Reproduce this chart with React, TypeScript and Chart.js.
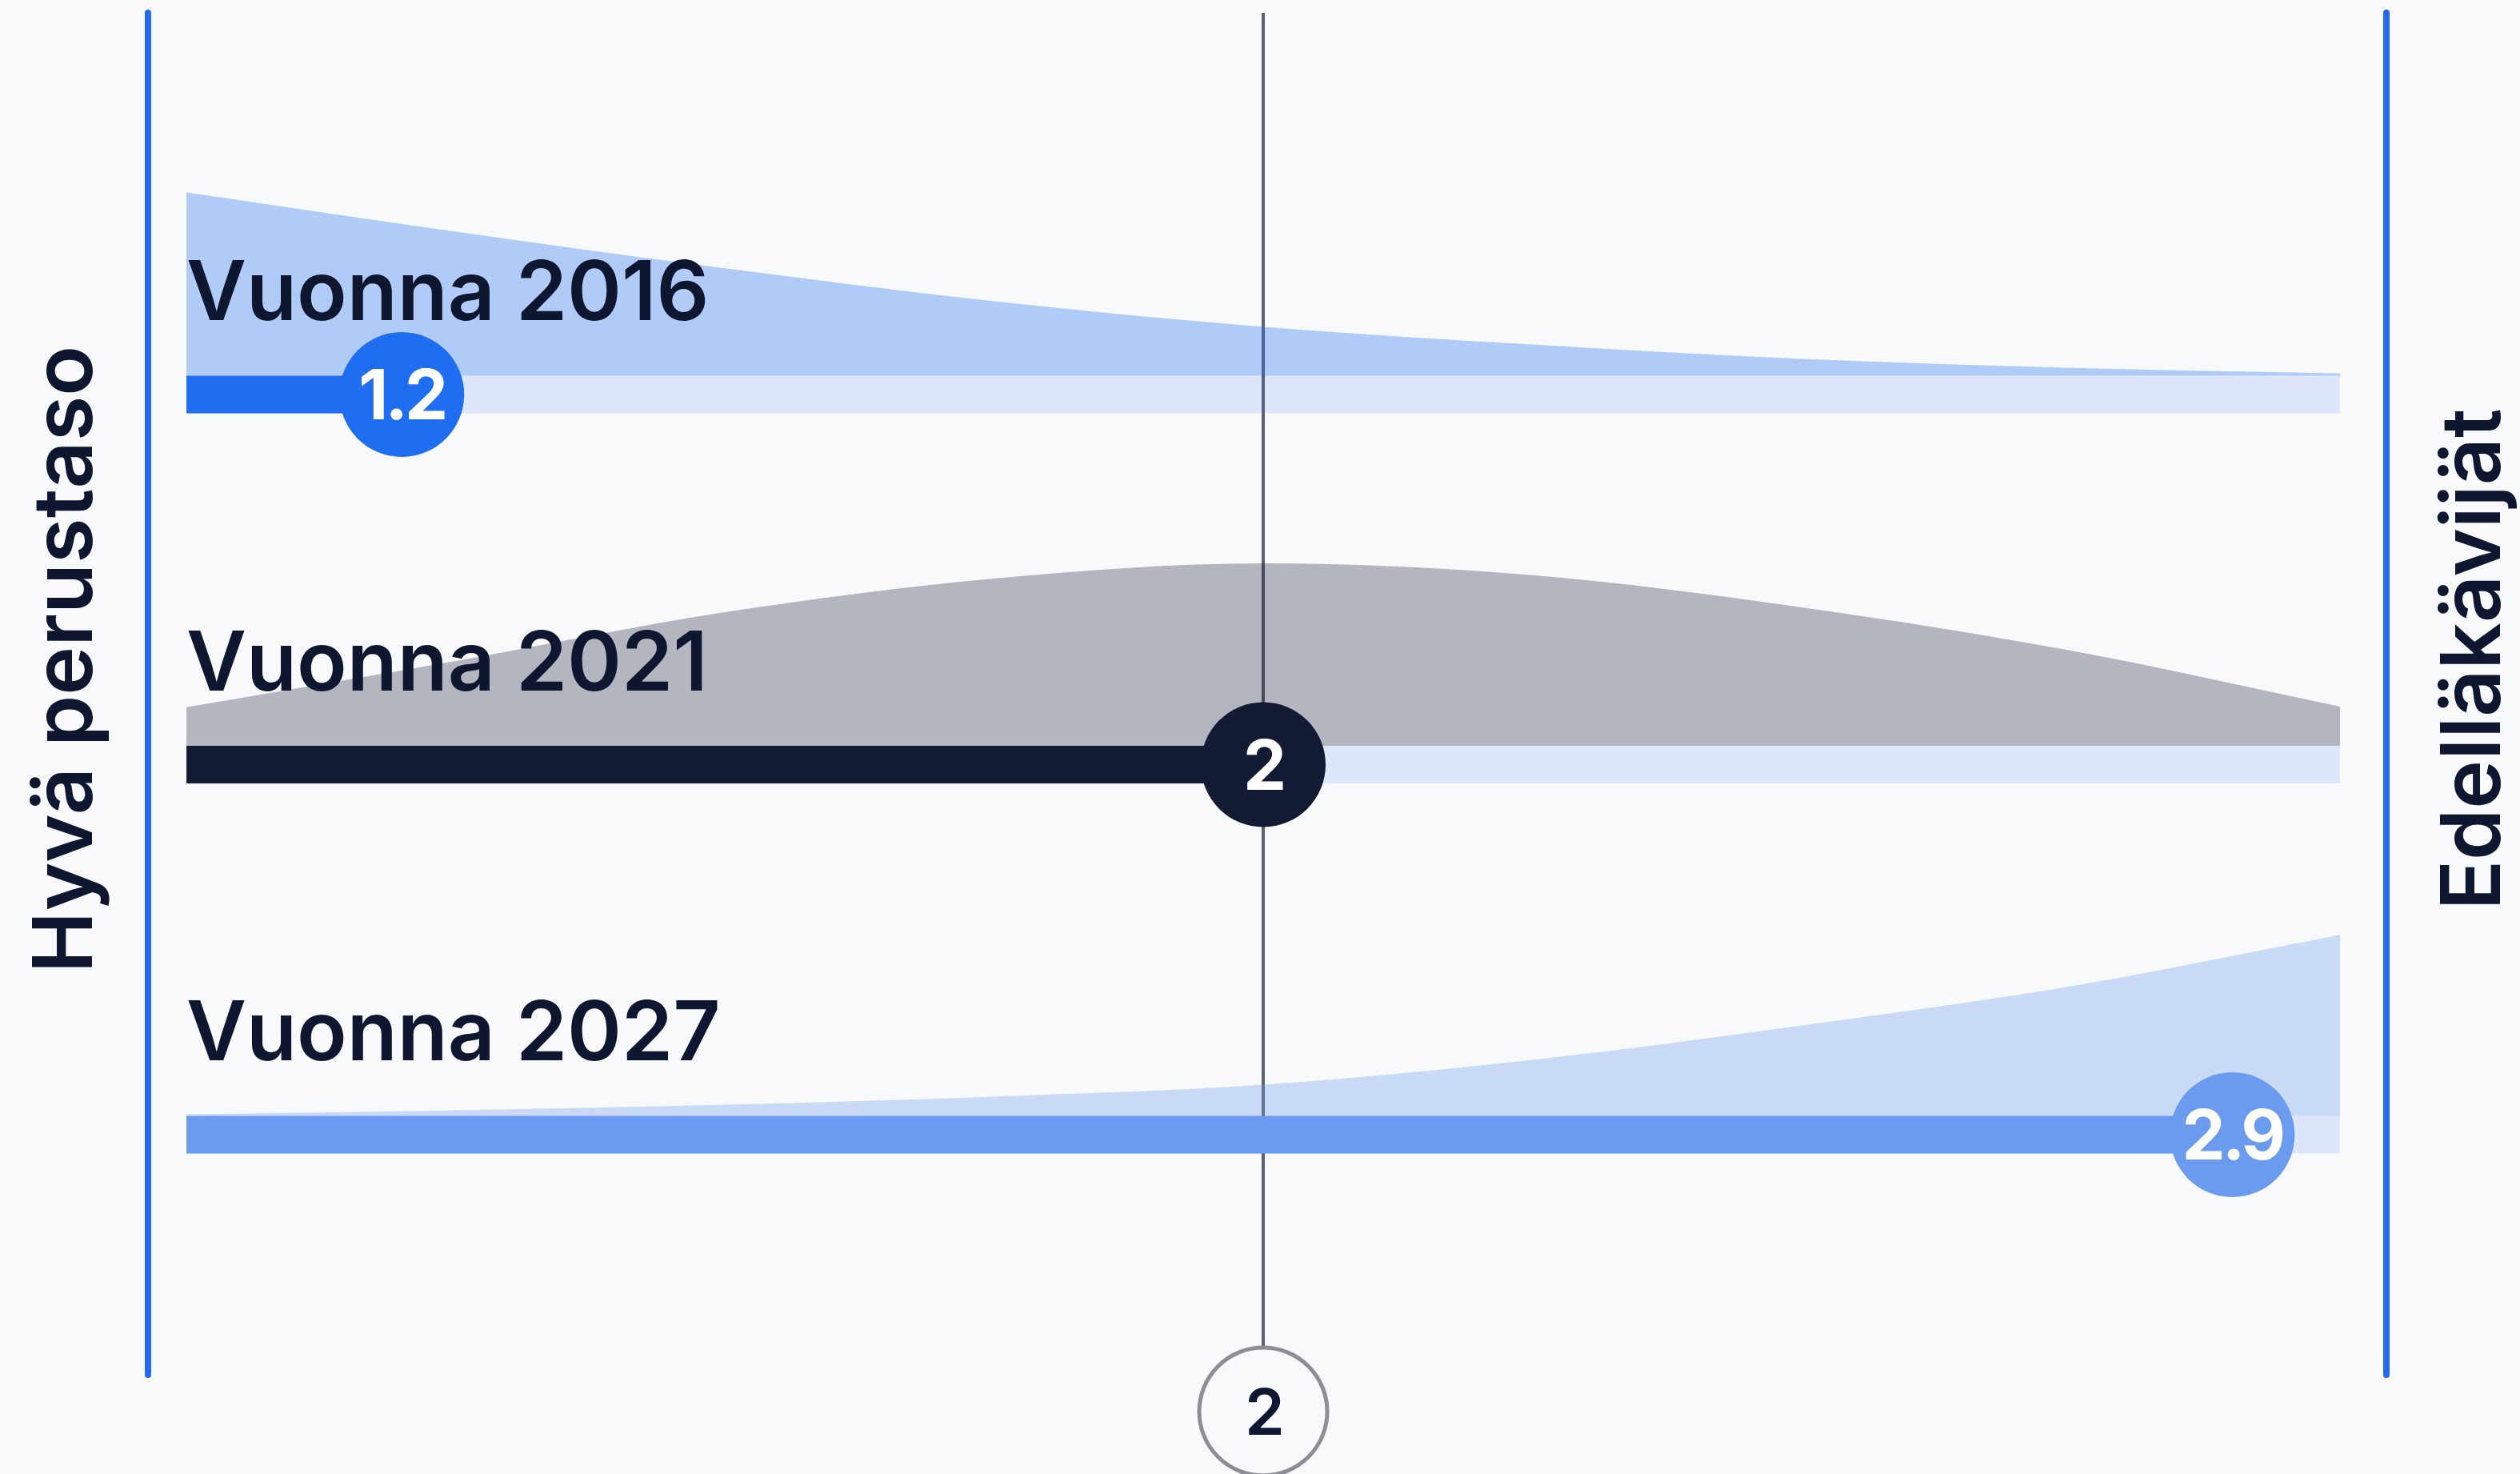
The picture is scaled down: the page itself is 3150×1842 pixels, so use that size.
import React, { useEffect, useRef } from 'react';
import { Chart, registerables } from 'chart.js';

Chart.register(...registerables);

// ---------- data ----------
const CATEGORIES = ['Vuonna 2016', 'Vuonna 2021', 'Vuonna 2027'];
const SCORES = [1.2, 2, 2.9];
const BENCHMARK = 2;
const SCALE_MIN = 1;
const SCALE_MAX = 3;
const AXIS_LABELS = ['Hyvä perustaso', 'Edelläkävijät'];
const DIST_X = [1, 1.25, 1.5, 1.75, 2, 2.25, 2.5, 2.75, 3];
const DIST_2016 = [0.495, 0.389, 0.29, 0.201, 0.132, 0.084, 0.045, 0.021, 0.006];
const DIST_2021 = [0.104, 0.229, 0.361, 0.452, 0.493, 0.461, 0.374, 0.257, 0.106];
const DIST_2027 = [0.004, 0.015, 0.03, 0.052, 0.084, 0.151, 0.244, 0.35, 0.489];
const DISTS = [DIST_2016, DIST_2021, DIST_2027];

// ---------- layout / style ----------
const W = 3150;
const H = 1842;
const ROW_POS = [3, 2, 1];
const X_MIN = 0.9643;
const X_MAX = 3.0431;
const Y_MIN = 0.3514;
const Y_MAX = 4.0314;
const HALF_BAR = 0.051; // half bar thickness in row units
const BENCH_Y = 0.252;
const BAR_PX = 47;
const DOT_R = 78;

const BG = '#f8f9fb';
const EDGE = '#2368ef';
const TEXT = '#0e1630';
const LINE = '#5b616f';
const RING = '#8b8e95';
const TRACK = 'rgba(37,110,240,0.12)';
const BAR_COLORS = ['#1f6ef2', '#131a33', '#6a9bee'];
const AREA_COLORS = ['rgba(31,110,242,0.33)', 'rgba(19,26,51,0.30)', 'rgba(106,155,238,0.33)'];
const FONT = 'Inter, "Noto Sans", Lato, sans-serif';

const fmt = (v: number) => (Number.isInteger(v) ? String(v) : v.toFixed(1));

export default function App() {
  const ref = useRef<HTMLCanvasElement>(null);

  useEffect(() => {
    document.body.style.margin = '0';
    document.body.style.background = BG;
    const canvas = ref.current!;

    const datasets: any[] = [];

    // benchmark vertical line
    datasets.push({
      data: [{ x: BENCHMARK, y: Y_MAX }, { x: BENCHMARK, y: BENCH_Y }],
      borderColor: LINE,
      borderWidth: 4,
      pointRadius: 0,
      clip: false,
      order: 30,
    });

    // tracks
    ROW_POS.forEach((r) => {
      datasets.push({
        data: [{ x: SCALE_MIN, y: r }, { x: SCALE_MAX, y: r }],
        borderColor: TRACK,
        borderWidth: BAR_PX,
        borderCapStyle: 'butt',
        pointRadius: 0,
        order: 25,
      });
    });

    // distribution areas
    ROW_POS.forEach((r, i) => {
      const base = r + HALF_BAR;
      datasets.push({
        data: DIST_X.map((x, k) => ({ x, y: base + DISTS[i][k] })),
        borderColor: 'rgba(0,0,0,0)',
        borderWidth: 0,
        backgroundColor: AREA_COLORS[i],
        fill: { value: base },
        cubicInterpolationMode: 'monotone',
        pointRadius: 0,
        order: 24,
      });
    });

    // edges
    [X_MIN, X_MAX].forEach((x) => {
      datasets.push({
        data: [{ x, y: Y_MAX }, { x, y: Y_MIN }],
        borderColor: EDGE,
        borderWidth: 8,
        borderCapStyle: 'round',
        pointRadius: 0,
        clip: false,
        order: 20,
      });
    });

    // value bars
    ROW_POS.forEach((r, i) => {
      datasets.push({
        data: [{ x: SCALE_MIN, y: r }, { x: SCORES[i], y: r }],
        borderColor: BAR_COLORS[i],
        borderWidth: BAR_PX,
        borderCapStyle: 'butt',
        pointRadius: 0,
        order: 15,
      });
    });

    // value dots
    const dotIdx: number[] = [];
    ROW_POS.forEach((r, i) => {
      dotIdx.push(datasets.length);
      datasets.push({
        data: [{ x: SCORES[i], y: r }],
        showLine: false,
        pointRadius: DOT_R,
        pointHoverRadius: DOT_R,
        pointBackgroundColor: BAR_COLORS[i],
        pointBorderWidth: 0,
        borderColor: BAR_COLORS[i],
        clip: false,
        order: 10,
      });
    });

    // benchmark ring
    const benchIdx = datasets.length;
    datasets.push({
      data: [{ x: BENCHMARK, y: BENCH_Y }],
      showLine: false,
      pointRadius: 80,
      pointHoverRadius: 80,
      pointBackgroundColor: BG,
      pointBorderColor: RING,
      pointBorderWidth: 5,
      borderColor: RING,
      clip: false,
      order: 5,
    });

    const bgPlugin = {
      id: 'bg',
      beforeDraw(chart: any) {
        const c = chart.ctx;
        c.save();
        c.fillStyle = BG;
        c.fillRect(0, 0, chart.width, chart.height);
        c.restore();
      },
    };

    const textPlugin = {
      id: 'texts',
      afterDatasetsDraw(chart: any) {
        const c = chart.ctx;
        const xs = chart.scales.x;
        const ys = chart.scales.y;
        const area = chart.chartArea;
        c.save();
        // row labels
        c.fillStyle = TEXT;
        c.font = `600 103px ${FONT}`;
        c.textAlign = 'left';
        c.textBaseline = 'alphabetic';
        CATEGORIES.forEach((label, i) => {
          c.fillText(label, xs.getPixelForValue(SCALE_MIN), ys.getPixelForValue(ROW_POS[i]) - 93);
        });
        // dot values
        c.fillStyle = '#ffffff';
        c.font = `700 86px ${FONT}`;
        c.textAlign = 'center';
        (c as any).letterSpacing = '-4px';
        dotIdx.forEach((di, i) => {
          const el = chart.getDatasetMeta(di).data[0];
          c.fillText(fmt(SCORES[i]), el.x, el.y + 31);
        });
        // benchmark value
        const b = chart.getDatasetMeta(benchIdx).data[0];
        c.fillStyle = TEXT;
        c.font = `600 80px ${FONT}`;
        c.fillText(fmt(BENCHMARK), b.x, b.y + 29);
        (c as any).letterSpacing = '0px';
        // side labels
        c.font = `600 103px ${FONT}`;
        const midY = 824;
        c.save();
        c.translate(area.left - 70, midY);
        c.rotate(-Math.PI / 2);
        c.textAlign = 'center';
        c.fillText(AXIS_LABELS[0], 0, 0);
        c.restore();
        c.save();
        c.translate(area.right + 142, midY);
        c.rotate(-Math.PI / 2);
        c.textAlign = 'center';
        c.fillText(AXIS_LABELS[1], 0, 0);
        c.restore();
        c.restore();
      },
    };

    const chart = new Chart(canvas, {
      type: 'line',
      data: { datasets },
      options: {
        animation: false,
        responsive: false,
        devicePixelRatio: 1,
        events: [],
        layout: { autoPadding: false, padding: { left: 185, right: 167, top: 16, bottom: 124 } },
        scales: {
          x: { type: 'linear', min: X_MIN, max: X_MAX, display: false },
          y: { type: 'linear', min: Y_MIN, max: Y_MAX, display: false },
        },
        plugins: {
          legend: { display: false },
          tooltip: { enabled: false },
        },
      },
      plugins: [bgPlugin, textPlugin],
    } as any);

    return () => chart.destroy();
  }, []);

  return (
    <canvas
      ref={ref}
      width={W}
      height={H}
      style={{ display: 'block', width: `${W}px`, height: `${H}px` }}
    />
  );
}
